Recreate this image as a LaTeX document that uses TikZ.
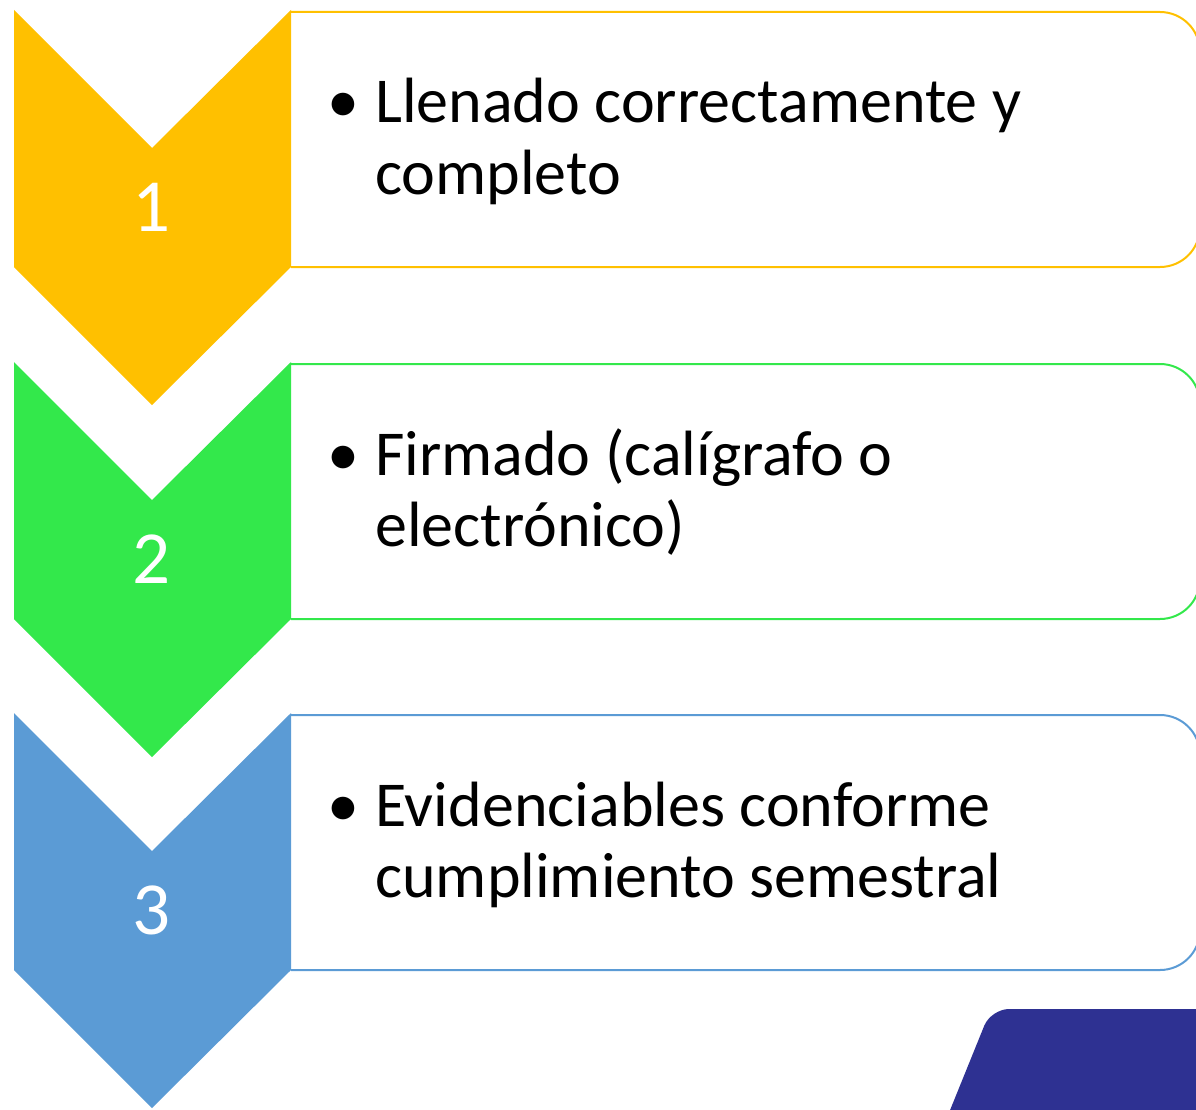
\documentclass[tikz,border=0pt]{standalone}
\usepackage{fontspec}
\setmainfont{Carlito}
\definecolor{pasoamarillo}{HTML}{FFC000}
\definecolor{pasoverde}{HTML}{33E84B}
\definecolor{pasoazul}{HTML}{5B9BD5}
\definecolor{azuloscuro}{HTML}{2E3192}
\begin{document}
\begin{tikzpicture}[x=1pt,y=-1pt,
  flecha/.style={fill=#1, draw=none},
  caja/.style={draw=#1, line width=2pt, rounded corners=40pt},
  numero/.style={text=white, inner sep=0pt, anchor=base, font=\fontsize{75}{75}\selectfont},
  punto/.style={inner sep=0pt, anchor=base, font=\fontsize{64}{71}\selectfont},
  texto/.style={inner sep=0pt, anchor=base west, align=left, font=\fontsize{64}{71}\selectfont}]
\useasboundingbox (0,0) rectangle (1196,1110);
\clip (0,0) rectangle (1196,1110);
% paso 1
\draw [caja=pasoamarillo] (291,12) -- (1200,12) -- (1200,267) -- (291,267);
\fill [flecha=pasoamarillo] (14,10) -- (152,148) -- (291,10) -- (291,267) -- (152,405) -- (14,267) -- cycle;
\node [numero] (num1) at (152,231) {1};
\node [punto] (pto1) at (343,123) {•};
\node [texto] (txt1) at (375,194) {Llenado correctamente y\\completo};
% paso 2
\draw [caja=pasoverde] (291,364) -- (1200,364) -- (1200,619) -- (291,619);
\fill [flecha=pasoverde] (14,362) -- (152,500) -- (291,362) -- (291,619) -- (152,757) -- (14,619) -- cycle;
\node [numero] (num2) at (152,583) {2};
\node [punto] (pto2) at (343,475) {•};
\node [texto] (txt2) at (375,546) {Firmado (calígrafo o\\electrónico)};
% paso 3
\draw [caja=pasoazul] (291,715) -- (1200,715) -- (1200,970) -- (291,970);
\fill [flecha=pasoazul] (14,713) -- (152,851) -- (291,713) -- (291,970) -- (152,1108) -- (14,970) -- cycle;
\node [numero] (num3) at (152,934) {3};
\node [punto] (pto3) at (343,826) {•};
\node [texto] (txt3) at (375,897) {Evidenciables conforme\\cumplimiento semestral};
% esquina
\fill [azuloscuro, rounded corners=18pt] (942,1130) -- (991,1009) -- (1230,1009) -- (1230,1130) -- cycle;
\end{tikzpicture}
\end{document}
